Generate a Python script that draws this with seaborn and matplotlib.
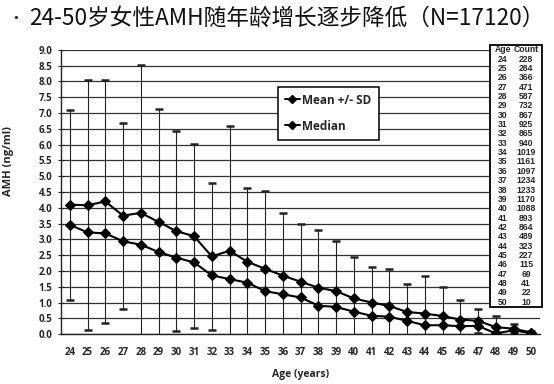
import seaborn as sns
import matplotlib.pyplot as plt
import pandas as pd
from matplotlib.patches import Rectangle
from matplotlib.lines import Line2D

# values
ages = list(range(24, 51))
counts = [228, 284, 366, 471, 587, 732, 867, 925, 865, 940, 1019, 1161, 1097, 1234,
          1233, 1170, 1088, 893, 864, 489, 323, 227, 115, 69, 41, 22, 10]
mean_amh = [4.10, 4.08, 4.20, 3.75, 3.84, 3.55, 3.26, 3.10, 2.46, 2.64, 2.29, 2.07, 1.85, 1.66,
            1.47, 1.36, 1.13, 1.00, 0.89, 0.70, 0.65, 0.57, 0.46, 0.42, 0.22, 0.17, 0.05]
sd_amh = [3.01, 3.96, 3.84, 2.94, 4.69, 3.59, 3.17, 2.92, 2.33, 3.94, 2.34, 2.46, 2.00, 1.84,
          1.84, 1.59, 1.32, 1.13, 1.16, 0.90, 1.20, 0.91, 0.62, 0.39, 0.35, 0.14, 0.04]
median_amh = [3.46, 3.22, 3.19, 2.94, 2.83, 2.60, 2.42, 2.27, 1.86, 1.74, 1.63, 1.36, 1.26, 1.16,
              0.90, 0.86, 0.71, 0.58, 0.55, 0.42, 0.28, 0.28, 0.25, 0.26, 0.02, 0.12, 0.03]

df = pd.DataFrame({"age": ages, "mean": mean_amh, "sd": sd_amh, "median": median_amh})

sns.set_style("white")
plt.rcParams['font.family'] = ['Open Sans', 'DejaVu Sans']

fig = plt.figure(figsize=(5.54, 3.84), dpi=100)
ax = fig.add_axes([0.110, 0.130, 0.865, 0.740])

ax.errorbar(df["age"], df["mean"], yerr=df["sd"], fmt="none", ecolor="#222222",
            elinewidth=0.8, capsize=3.2, capthick=1.8, zorder=2)
sns.lineplot(data=df, x="age", y="mean", ax=ax, color="black", marker="D",
             markersize=5, linewidth=1.5, markeredgecolor="black", zorder=3)
sns.lineplot(data=df, x="age", y="median", ax=ax, color="black", marker="D",
             markersize=5, linewidth=1.5, markeredgecolor="black", zorder=3)

ax.set_xlim(23.5, 50.5)
ax.set_ylim(0, 9)
ax.set_yticks([i * 0.5 for i in range(19)])
ax.set_yticklabels([f"{i * 0.5:.1f}" for i in range(19)], fontsize=7, fontweight="bold")
ax.set_xticks(ages)
ax.set_xticklabels([str(a) for a in ages], fontsize=7, fontweight="bold")
ax.set_xticks([a + 0.5 for a in ages[:-1]] + [23.5, 50.5], minor=True)
ax.tick_params(axis="x", which="major", length=0, pad=9)
ax.tick_params(axis="x", which="minor", length=4, direction="inout", width=0.8)
ax.tick_params(axis="y", length=4, direction="inout", width=0.8, pad=4, left=True)
ax.yaxis.grid(True, color="#333333", linewidth=0.9)
for s in ["top", "right"]:
    ax.spines[s].set_visible(False)
for s in ["left", "bottom"]:
    ax.spines[s].set_color("#222222")
    ax.spines[s].set_linewidth(1.0)

ax.set_xlabel("Age (years)", fontsize=7.5, fontweight="bold", labelpad=8)
ax.set_ylabel("AMH (ng/ml)", fontsize=8, fontweight="bold")
ax.yaxis.set_label_coords(-0.098, 0.61)

handles = [Line2D([], [], color="black", marker="D", markersize=4, linewidth=1.4),
           Line2D([], [], color="black", marker="D", markersize=4, linewidth=1.4)]
leg = ax.legend(handles, ["Mean +/- SD", "Median"], loc="upper left",
                bbox_to_anchor=(0.440, 0.892), fancybox=False, framealpha=1,
                edgecolor="black", handlelength=1.3, handletextpad=0.2,
                labelspacing=1.1, borderpad=0.6, prop={"weight": "bold", "size": 8.5})
leg.get_frame().set_linewidth(1.1)

# count table box in the upper right
x0, x1, y0, y1 = 490 / 554, 542 / 554, 1 - 45 / 384, 1 - 307 / 384
fig.patches.append(Rectangle((x0, y1), x1 - x0, y0 - y1, transform=fig.transFigure,
                             facecolor="white", edgecolor="black", linewidth=1.3, zorder=5))
rows = [("Age", "Count")] + [(str(a), str(c)) for a, c in zip(ages, counts)]
rh = (y0 - y1) / len(rows)
for i, (a, c) in enumerate(rows):
    yy = y0 - rh * (i + 0.5)
    fig.text(503 / 554, yy, a, ha="center", va="center", fontsize=6.2,
             fontweight="bold", family="Liberation Sans", zorder=6)
    fig.text(526 / 554, yy, c, ha="center", va="center", fontsize=6.2,
             fontweight="bold", family="Liberation Sans", zorder=6)

fig.text(0.013, 0.953, "•", fontsize=12, va="center", ha="left", color="#222222",
         family=["Noto Sans CJK SC", "DejaVu Sans"])
fig.text(0.052, 0.953, "24-50岁女性AMH随年龄增长逐步降低（N=17120）", fontsize=16.3,
         va="center", ha="left", color="#111111",
         family=["Noto Sans CJK SC", "DejaVu Sans"])

fig.savefig("out.png", dpi=100)
